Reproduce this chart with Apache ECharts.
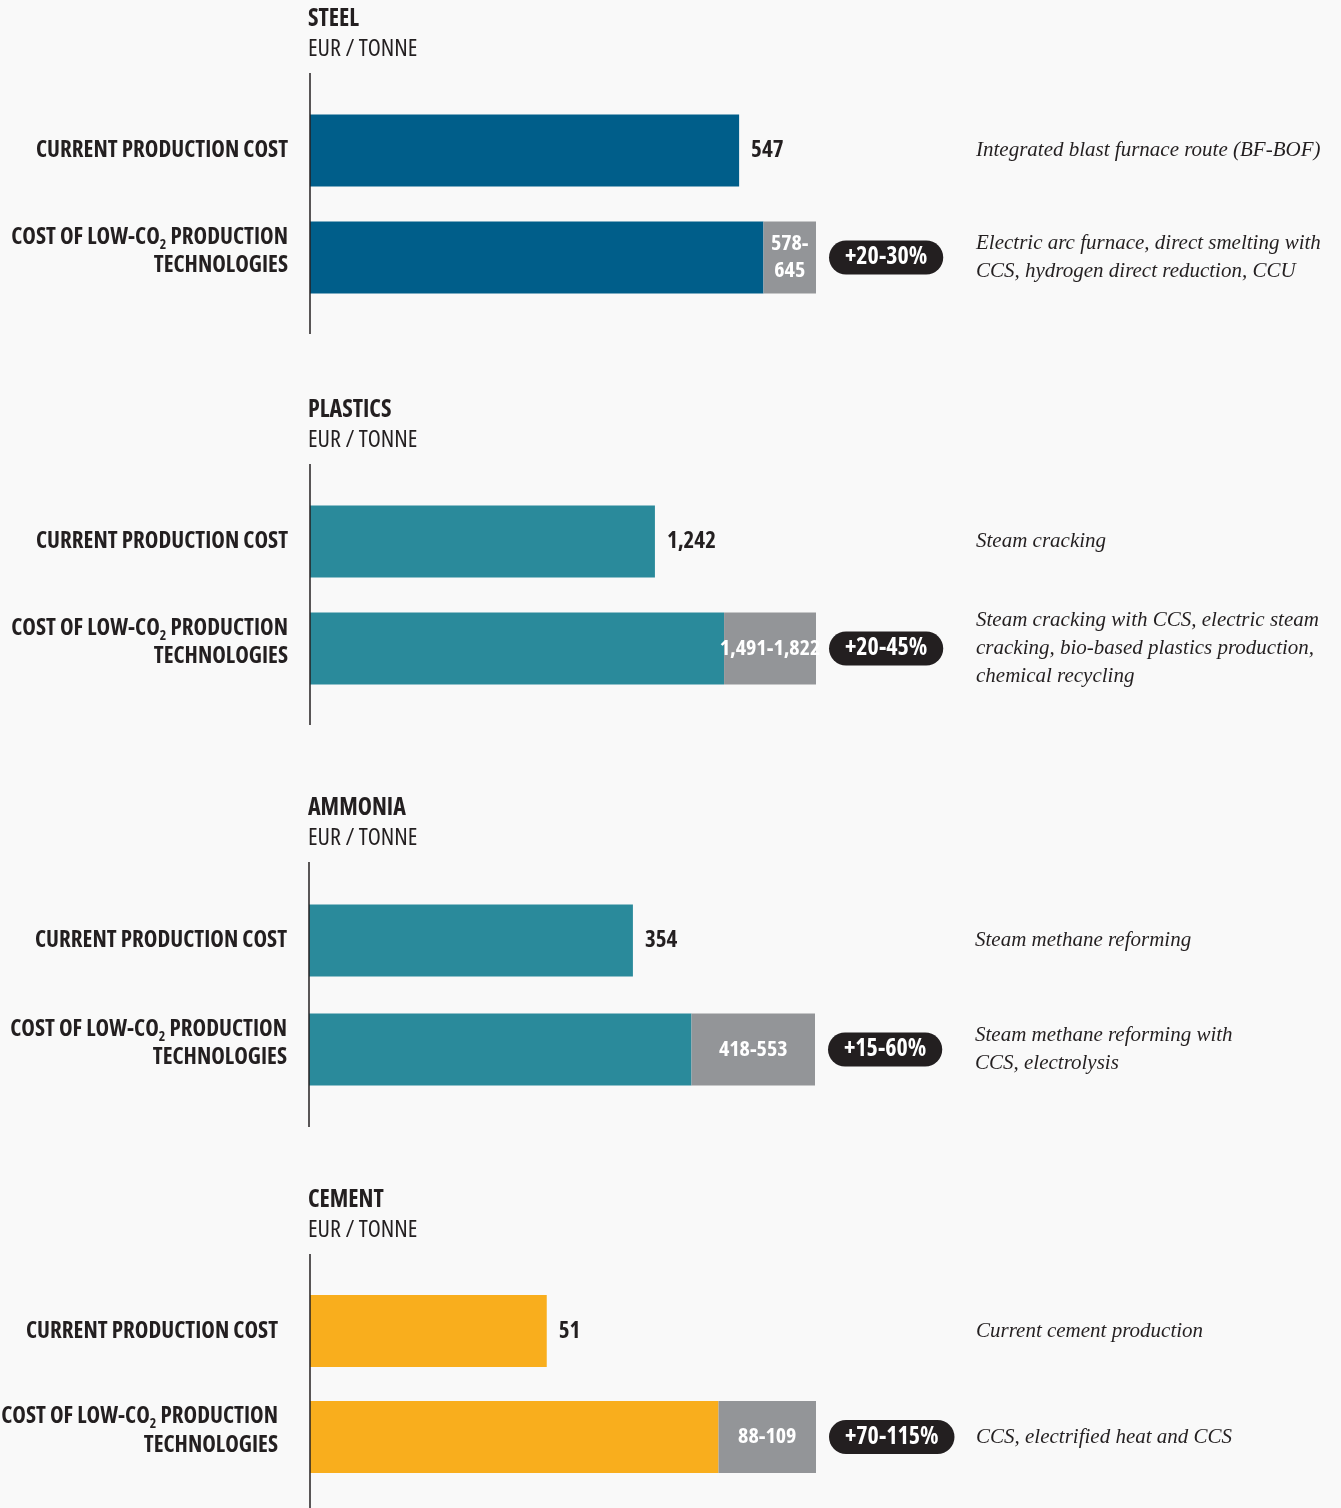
<!DOCTYPE html>
<html>
<head>
<meta charset="utf-8">
<script src="https://cdn.jsdelivr.net/npm/echarts@6/dist/echarts.min.js"></script>
<style>
  html, body { margin: 0; padding: 0; background: #f9f9f9; }
  #main { width: 1341px; height: 1508px; }
</style>
</head>
<body>
<div id="main"></div>
<script>
// data
const panels = ["STEEL", "PLASTICS", "AMMONIA", "CEMENT"];
const unitLabel = "EUR / TONNE";
const categories = ["CURRENT PRODUCTION COST", "COST OF LOW-CO2 PRODUCTION\nTECHNOLOGIES"];
const currentCost = [547, 1242, 354, 51];
const lowCo2Min = [578, 1491, 418, 88];
const lowCo2Max = [645, 1822, 553, 109];
const increase = ["+20-30%", "+20-45%", "+15-60%", "+70-115%"];
const currentNotes = [
  "Integrated blast furnace route (BF-BOF)",
  "Steam cracking",
  "Steam methane reforming",
  "Current cement production"
];
const lowCo2Notes = [
  "Electric arc furnace, direct smelting with\nCCS, hydrogen direct reduction, CCU",
  "Steam cracking with CCS, electric steam\ncracking, bio-based plastics production,\nchemical recycling",
  "Steam methane reforming with\nCCS, electrolysis",
  "CCS, electrified heat and CCS"
];

const barColors = ["#005e8a", "#2a8a9b", "#2a8a9b", "#f9ae1d"];
const gray = "#939598";
const ink = "#231f20";
// condensed faces are picked through the weight/stretch part of the canvas font string
const cond = '"Open Sans", "Roboto Condensed", sans-serif';
const boldCond = "bold condensed";
const normCond = "normal condensed";
const serif = '"Liberation Serif", "DejaVu Serif", serif';

// layout of the four panels
const gridTop = [97, 488, 886, 1278];
const gridH = [214, 214, 218, 212];
const labelMargin = [22, 22, 22, 32];
const gridLeft = [310, 310, 309, 310];

const fmt = v => v.toLocaleString("en-US");

function catLabel(value) {
  return value.split("\n").map(line => {
    if (line.indexOf("CO2") >= 0) {
      const parts = line.split("CO2");
      return "{b|" + parts[0] + "CO}{s|2}{b|" + parts[1] + "}";
    }
    return "{b|" + line + "}";
  }).join("\n");
}

let myChart = echarts.init(document.getElementById("main"));

let option = {
  backgroundColor: "#f9f9f9",
  animation: false,
  title: [],
  grid: [],
  xAxis: [],
  yAxis: [],
  series: [],
  graphic: []
};

panels.forEach((name, i) => {
  option.title.push({
    text: name,
    subtext: unitLabel,
    left: 303,
    top: gridTop[i] - 95,
    itemGap: 6,
    textStyle: { fontFamily: cond, fontWeight: boldCond, fontSize: 24, color: ink },
    subtextStyle: { fontFamily: cond, fontWeight: normCond, fontSize: 24, color: ink },
  });

  option.grid.push({
    left: gridLeft[i], width: 506, top: gridTop[i], height: gridH[i],
    outerBoundsMode: "none", containLabel: false,
  });

  option.xAxis.push({
    gridIndex: i,
    type: "value",
    min: 0,
    max: lowCo2Max[i],
    show: false,
  });

  option.yAxis.push({
    gridIndex: i,
    type: "category",
    inverse: true,
    // the two-line label sits a bit above its bar
    data: categories.map(c => c.indexOf("\n") >= 0 ? { value: c, textStyle: { padding: [0, 0, 14, 0] } } : c),
    axisLine: { show: false },
    axisTick: { show: false },
    axisLabel: {
      margin: labelMargin[i],
      formatter: catLabel,
      rich: {
        b: { fontFamily: cond, fontWeight: boldCond, fontSize: 23, lineHeight: 27, color: ink },
        s: { fontFamily: cond, fontWeight: boldCond, fontSize: 14, lineHeight: 30, color: ink, verticalAlign: "bottom" },
      },
    },
  });
  option.yAxis.push({
    gridIndex: i,
    type: "category",
    inverse: true,
    position: "right",
    data: [currentNotes[i], lowCo2Notes[i]],
    axisLine: { show: false },
    axisTick: { show: false },
    axisLabel: {
      margin: 160,
      fontFamily: serif,
      fontStyle: "italic",
      fontSize: 21,
      lineHeight: 28,
      color: ink,
    },
  });

  // base bars (current cost + lower end of low-CO2 range)
  option.series.push({
    type: "bar",
    xAxisIndex: i,
    yAxisIndex: i * 2,
    stack: "s" + i,
    barWidth: 72,
    itemStyle: { color: barColors[i] },
    data: [
      {
        value: currentCost[i],
        label: {
          show: true,
          position: "right",
          distance: 12,
          formatter: p => fmt(p.value),
          fontFamily: cond,
          fontWeight: boldCond,
          fontSize: 23,
          color: ink,
        },
      },
      lowCo2Min[i],
    ],
  });

  // grey range segment
  const narrow = (lowCo2Max[i] - lowCo2Min[i]) / lowCo2Max[i] < 0.15;
  option.series.push({
    type: "bar",
    xAxisIndex: i,
    yAxisIndex: i * 2,
    stack: "s" + i,
    barWidth: 72,
    itemStyle: { color: gray },
    label: {
      show: true,
      position: "inside",
      overflow: "none",
      formatter: () => fmt(lowCo2Min[i]) + (narrow ? "-\n" : "-") + fmt(lowCo2Max[i]),
      fontFamily: cond,
      fontWeight: boldCond,
      fontSize: 22,
      lineHeight: 27,
      color: "#fff",
    },
    labelLayout: { hideOverlap: false },
    data: ["-", lowCo2Max[i] - lowCo2Min[i]],
  });

  // increase pill
  option.series.push({
    type: "scatter",
    xAxisIndex: i,
    yAxisIndex: i * 2,
    symbolSize: 0,
    z: 5,
    itemStyle: { opacity: 1 },
    label: {
      show: true,
      position: "right",
      distance: 13,
      formatter: () => increase[i],
      backgroundColor: ink,
      borderRadius: 17,
      padding: [4, 16, 3, 16],
      fontFamily: cond,
      fontWeight: boldCond,
      fontSize: 24,
      lineHeight: 27,
      color: "#fff",
    },
    data: [[lowCo2Max[i], 1]],
  });

  // vertical baseline
  option.graphic.push({
    type: "line",
    shape: { x1: gridLeft[i], y1: gridTop[i] - 24, x2: gridLeft[i], y2: Math.min(gridTop[i] + gridH[i] + 23, 1508) },
    style: { stroke: ink, lineWidth: 1.5 },
    z: 10,
  });
});

myChart.setOption(option);
</script>
</body>
</html>
